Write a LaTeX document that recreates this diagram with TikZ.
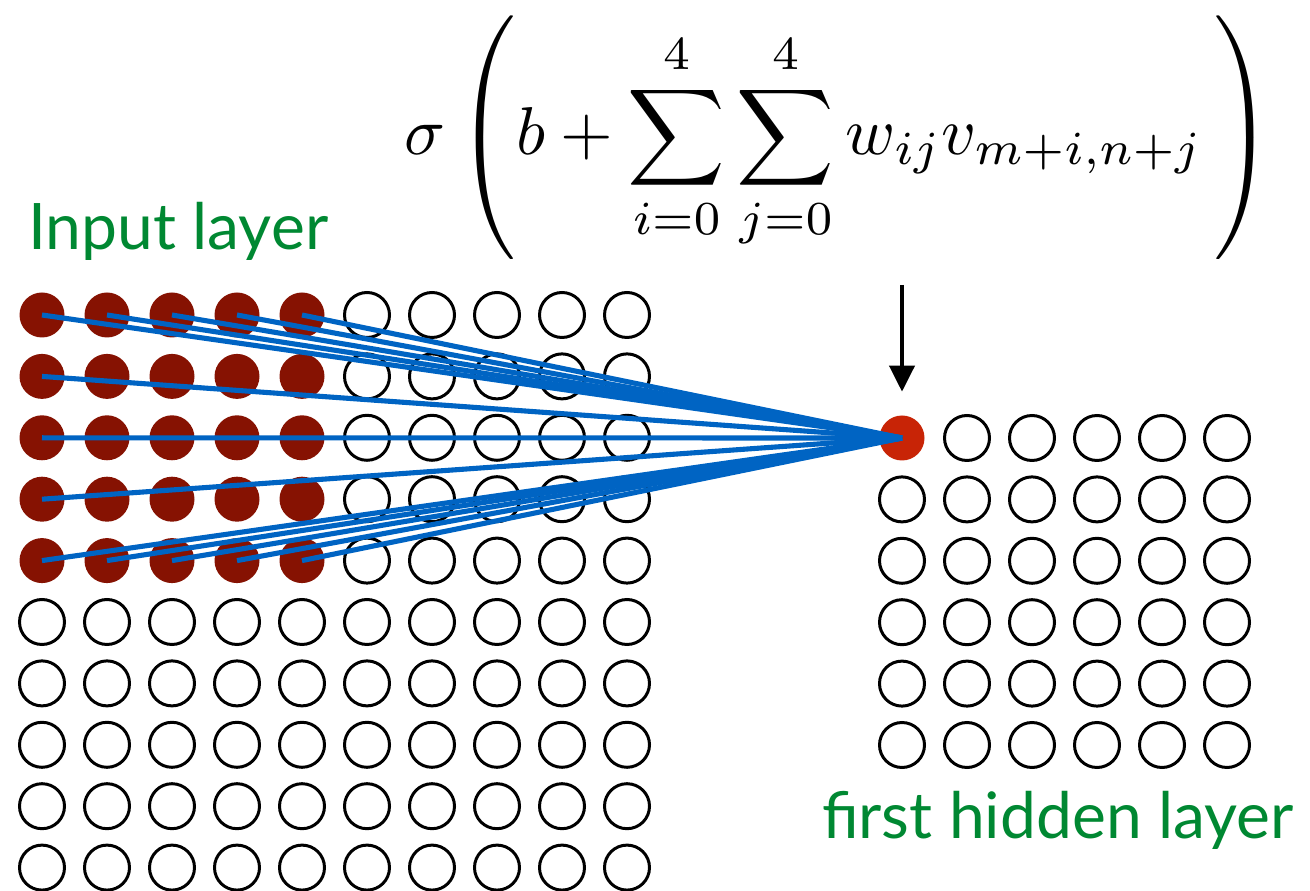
\documentclass[tikz,border=0pt]{standalone}
\usepackage{amsmath}
\usepackage{graphicx}
\usepackage{fontspec}
\usepackage{tikz}
\usetikzlibrary{arrows.meta, positioning}
\newfontfamily\gillish{Lato}

\definecolor{fieldred}{RGB}{134,18,2}
\definecolor{hotred}{RGB}{200,36,6}
\definecolor{linkblue}{RGB}{0,100,195}
\definecolor{labelgreen}{RGB}{0,136,50}

\tikzset{
    neuron/.style={circle, minimum size=0.9cm, inner sep=0pt},
    idle/.style={neuron, draw=black, line width=1.7pt},
    field/.style={neuron, fill=fieldred},
    target/.style={neuron, fill=hotred},
    weight/.style={draw=linkblue, line width=2.9pt},
    layername/.style={text=labelgreen, font=\gillish\fontsize{36.5}{42}\selectfont}
}

\begin{document}
\begin{tikzpicture}[>=stealth]
    \useasboundingbox (0,0) rectangle (26.2,17.8);

    % Input layer
    \foreach \r in {0,...,9}
        \foreach \c in {0,...,9} {
            \ifnum\r<5 \ifnum\c<5 \def\st{field}\else\def\st{idle}\fi\else\def\st{idle}\fi
            \node[\st] (in-\r-\c) at ({0.84+1.3*\c},{11.5-1.228*\r}) {};
        }
    \node[layername, anchor=base west] (inlabel) at (0.44,12.8) {Input layer};

    % Hidden layer
    \foreach \r in {0,...,5}
        \foreach \c in {0,...,5} {
            \ifnum\numexpr\r+\c\relax=0 \def\st{target}\else\def\st{idle}\fi
            \node[\st] (hid-\r-\c) at ({18.04+1.3*\c},{9.04-1.228*\r}) {};
        }
    \node[layername, anchor=base east] (hidlabel) at (26.0,1.04) {first hidden layer};

    % Receptive field
    \foreach \r/\c in {0/0,0/1,0/2,0/3,0/4,1/0,2/0,3/0,4/0,4/1,4/2,4/3,4/4}
        \draw[weight] (in-\r-\c.center) -- (hid-0-0.center);

    % Formula
    \node[inner sep=0pt] (act) at (16.78,15.05)
        {\scalebox{3.85}{$\displaystyle \sigma\left( b + \sum_{i=0}^{4}\sum_{j=0}^{4} w_{ij} v_{m+i,n+j}\, \right)$}};
    \coordinate (arrowtop) at (18.04,12.1);
    \draw[-{Triangle[length=0.52cm, width=0.5cm]}, line width=2.3pt, shorten >=0.47cm] (arrowtop) -- (hid-0-0);
\end{tikzpicture}
\end{document}
